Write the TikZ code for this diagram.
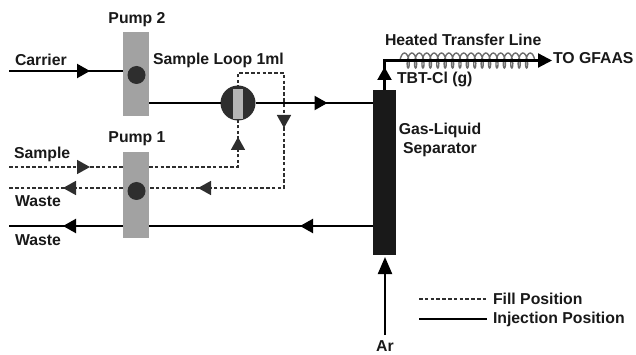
\documentclass[tikz,border=0pt]{standalone}
\usepackage{fontspec}
\setmainfont{Liberation Sans}
\usetikzlibrary{arrows.meta}
\usetikzlibrary{decorations.markings}
\usetikzlibrary{decorations.pathmorphing}
\definecolor{pumpgray}{HTML}{A2A2A2}
\definecolor{darkfill}{HTML}{2E2E2E}
\tikzstyle{pump}=[fill=pumpgray, inner sep=0, outer sep=0, minimum width=26pt]
\tikzstyle{dot}=[circle, fill=darkfill, inner sep=0, outer sep=0, minimum size=18pt]
\tikzstyle{injection}=[draw=black, line width=2.2pt]
\tikzstyle{fill line}=[draw=darkfill, line width=1.6pt, dash pattern=on 3.6pt off 2.2pt]
\tikzstyle{lbl}=[inner sep=0, outer sep=0, text=black!90, font=\fontsize{15.8}{17}\selectfont\bfseries]
\tikzstyle{tipat}=[postaction={decorate, decoration={markings, mark=at position #1 with {\arrow{Triangle[length=13pt, width=14pt]}}}}]
\begin{document}
\begin{tikzpicture}[x=1pt, y=-1pt]
        \useasboundingbox (0, 0) rectangle (636, 355);
        % Pumps, valve and separator.
        \node[pump, minimum height=84pt] (pump2) at (136, 74) {};
        \node[pump, minimum height=85pt] (pump1) at (136, 195) {};
        \node[dot] (dot2) at (136.5, 75) {};
        \node[dot] (dot1) at (136.5, 191) {};
        \node[circle, fill=darkfill, inner sep=0, outer sep=0, minimum size=35pt] (valve) at (238, 103) {};
        \node[fill=pumpgray!80, inner sep=0, outer sep=0, minimum width=10pt, minimum height=30pt] (valvecore) at (238, 104) {};
        \node[fill=black!90, inner sep=0, outer sep=0, minimum width=23pt, minimum height=165pt] (separator) at (384.5, 172.5) {};
        % Free ends.
        \coordinate (carrierin) at (9, 71);
        \coordinate (samplein) at (9, 167);
        \coordinate (sampleturn) at (238, 167);
        \coordinate (wastefill) at (9, 188);
        \coordinate (loopleft) at (238, 73);
        \coordinate (loopright) at (284, 73);
        \coordinate (loopdown) at (284, 188);
        \coordinate (wastesolid) at (9, 226);
        \coordinate (sepwaste) at (373, 226);
        \coordinate (outend) at (552, 60.5);
        \coordinate (coilstart) at (400, 60.5);
        \coordinate (coilend) at (537, 60.5);
        \coordinate (arin) at (385, 335);
        \coordinate (fillstart) at (419, 299);
        \coordinate (fillend) at (487, 299);
        \coordinate (injstart) at (419, 319);
        \coordinate (injend) at (487, 319);
        % Heated line.
        \draw[darkfill!70, line width=1.4pt, decorate, decoration={coil, amplitude=7.5pt, segment length=7.4pt, aspect=0.35}] (coilstart) -- (coilend);
        % Injection position.
        \draw[injection, tipat=81pt] (carrierin) -- (carrierin -| pump2.west);
        \draw[injection] (pump2.east |- valve.west) -- (valve.west);
        \draw[injection, tipat=72pt] (valve.east) -- (valve.east -| separator.west);
        \draw[injection, tipat=73pt] (sepwaste) -- (sepwaste -| pump1.east);
        \draw[injection, tipat=60pt] (wastesolid -| pump1.west) -- (wastesolid);
        \draw[injection, tipat=23pt, -{Triangle[length=14pt, width=14pt]}] (separator.north) |- (outend);
        \draw[injection, shorten >=2pt, -{Triangle[length=17pt, width=14pt]}] (arin) -- (separator.south -| arin);
        % Fill position.
        \draw[fill line, tipat=81pt] (samplein) -- (samplein -| pump1.west);
        \draw[fill line, tipat=119pt] (samplein -| pump1.east) -- (sampleturn) -- (valvecore.south);
        \draw[fill line, tipat=117pt, tipat=263pt] (valvecore.north) -- (loopleft) -- (loopright) -- (loopdown) -- (loopdown -| pump1.east);
        \draw[fill line, tipat=60pt] (wastefill -| pump1.west) -- (wastefill);
        % Legend.
        \draw[fill line, line width=1.2pt] (fillstart) -- (fillend);
        \draw[injection] (injstart) -- (injend);
        % Labels.
        \node[lbl] (pump2label) at (137, 20) {Pump 2};
        \node[lbl] (pump1label) at (137, 139) {Pump 1};
        \node[lbl, anchor=west] (carrierlabel) at (15, 60) {Carrier};
        \node[lbl, anchor=west] (looplabel) at (153, 60) {Sample Loop 1ml};
        \node[lbl, anchor=west] (samplelabel) at (14, 154) {Sample};
        \node[lbl, anchor=west] (wastelabela) at (15, 201) {Waste};
        \node[lbl, anchor=west] (wastelabelb) at (15, 240) {Waste};
        \node[lbl, anchor=west] (heatedlabel) at (385, 40) {Heated Transfer Line};
        \node[lbl, anchor=west] (gfaaslabel) at (553, 58) {TO GFAAS};
        \node[lbl, anchor=west] (tbtlabel) at (397, 79) {TBT-Cl (g)};
        \node[lbl] (gaslabel) at (440, 130) {Gas-Liquid};
        \node[lbl] (seplabel) at (440, 150) {Separator};
        \node[lbl] (arlabel) at (385, 346.5) {Ar};
        \node[lbl, anchor=west] (filllabel) at (493, 299) {Fill Position};
        \node[lbl, anchor=west] (injlabel) at (493, 319) {Injection Position};
    \end{tikzpicture}
\end{document}
